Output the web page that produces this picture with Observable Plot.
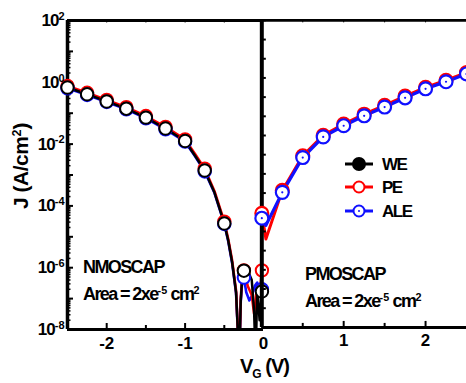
<!DOCTYPE html>
<html><head><meta charset="utf-8">
<script src="https://cdn.jsdelivr.net/npm/d3@7"></script>
<script src="https://cdn.jsdelivr.net/npm/@observablehq/plot@0.6"></script>
<style>
body{margin:0;background:#fff;}
#wrap{position:relative;width:466px;height:383px;overflow:hidden;font-family:"Liberation Sans",Arial,sans-serif;font-weight:bold;color:#000;background:#fff;}
#wrap svg.panel{position:absolute;left:0;top:0;}
.lbl{position:absolute;white-space:nowrap;line-height:1;}
.ann{font-size:18px;letter-spacing:-1.6px;}
.leg{font-size:17px;letter-spacing:-1.5px;}
sup{font-size:0.6em;vertical-align:0;position:relative;top:-0.55em;letter-spacing:0;}
sub{font-size:0.6em;vertical-align:0;position:relative;top:0.4em;}
</style></head><body><div id="wrap"></div>
<script>
// ---- NMOSCAP (left panel) ----
const weV  = [-2.5,-2.25,-2,-1.75,-1.5,-1.25,-1,-0.875,-0.75,-0.625,-0.5,-0.45,-0.4,-0.35,-0.31,-0.29,-0.27,-0.25,-0.2,-0.15,-0.12,-0.1,-0.08,-0.05,-0.02];
const weJ  = [0.68,0.41,0.24,0.14,0.072,0.032,0.0126,0.0043,0.0014,2.7e-4,2.7e-5,7.6e-6,1.5e-6,1.6e-7,1e-9,8.7e-8,5.6e-7,8e-7,7.9e-7,4e-7,4e-8,1e-9,2.5e-7,2e-8,1.7e-7];
const peNV = [-2.5,-2.25,-2,-1.75,-1.5,-1.25,-1,-0.875,-0.75,-0.625,-0.5,-0.45,-0.4,-0.35,-0.31,-0.29,-0.27,-0.25,-0.2,-0.15,-0.12,-0.08,-0.05,-0.02];
const peNJ = [0.76,0.46,0.27,0.157,0.081,0.036,0.0142,0.0049,0.0016,3.0e-4,3.1e-5,8.5e-6,1.7e-6,1.8e-7,1e-9,1e-7,6e-7,8.2e-7,2.5e-7,1.3e-7,3.3e-8,2.6e-7,1.3e-7,8.2e-7];
const aleNV = [-2.5,-2.25,-2,-1.75,-1.5,-1.25,-1,-0.875,-0.75,-0.625,-0.5,-0.45,-0.4,-0.35,-0.31,-0.29,-0.27,-0.25,-0.22,-0.18,-0.15,-0.11,-0.08,-0.05,-0.02];
const aleNJ = [0.64,0.39,0.23,0.133,0.068,0.030,0.012,0.0041,0.0013,2.6e-4,2.6e-5,7.2e-6,1.4e-6,1.5e-7,1e-9,8e-8,4e-7,4.8e-7,1.6e-7,8.7e-8,1.2e-7,2.6e-7,3.3e-7,1.5e-7,2e-7];
const markNV = [-2.5,-2.25,-2,-1.75,-1.5,-1.25,-1,-0.75,-0.5,-0.25,-0.02];

// ---- PMOSCAP (right panel) ----
const pV   = [0,0.05,0.25,0.5,0.75,1,1.25,1.5,1.75,2,2.25,2.5];
const aleP = [3.6e-5,2.1e-5,2.5e-4,3.4e-3,0.016,0.037,0.078,0.15,0.30,0.59,1.0,1.8];
const peP  = [5.2e-5,7.6e-6,2.9e-4,3.9e-3,0.018,0.042,0.088,0.17,0.34,0.66,1.12,2.0];
const markPV = [0,0.25,0.5,0.75,1,1.25,1.5,1.75,2,2.25,2.5];

// ---- axes ----
const xTickLeft = [-2,-1,0];
const xTickRight = [1,2];
const xMinorLeft = [-1.5,-0.5];
const xMinorRight = [0.5,1.5];
const yTickLabels = [1e2,1,1e-2,1e-4,1e-6,1e-8];
const yDecades = [1e2,1e1,1,1e-1,1e-2,1e-3,1e-4,1e-5,1e-6,1e-7,1e-8];
const yMinor = yDecades.slice(1).flatMap(d => [2,3,4,5,6,7,8,9].map(m => m*d));
const rightTicks = d3.range(0,17).map(i => Math.pow(10, -8 + i*0.625));

const rows = (V, J) => V.map((v,i) => ({V: v, J: J[i]}));
const we = rows(weV, weJ), peN = rows(peNV, peNJ), aleN = rows(aleNV, aleNJ);
const aleR = rows(pV, aleP), peR = rows(pV, peP);
const pickN = d => markNV.includes(d.V);
const pickP = d => markPV.includes(d.V);

const H = 383, MT = 20, MB = 54, innerH = H - MT - MB;
const RED = "#ff0000", BLUE = "#1010ff";
const font = {fontFamily: "'Liberation Sans', Arial, sans-serif", fontWeight: "bold", fontSize: "17px", overflow: "visible"};

// Left panel: x from -2.5 to 0
const leftW = 265, leftML = 67, leftMR = 2;
const leftInnerW = leftW - leftML - leftMR;
const left = Plot.plot({
  width: leftW, height: H,
  marginLeft: leftML, marginRight: leftMR, marginTop: MT, marginBottom: MB,
  x: {domain: [-2.5, 0], axis: null},
  y: {type: "log", domain: [1e-8, 1e2], axis: null},
  style: {...font, background: "white"},
  marks: [
    Plot.line(aleN, {x: "V", y: "J", stroke: BLUE, strokeWidth: 2.6, clip: true}),
    Plot.line(peN, {x: "V", y: "J", stroke: RED, strokeWidth: 2.6, clip: true}),
    Plot.line(we, {x: "V", y: "J", stroke: "black", strokeWidth: 2.5, clip: true}),
    Plot.ruleY([1e2], {strokeWidth: 3}),
    Plot.ruleY([1e-8], {strokeWidth: 3}),
    Plot.ruleX([-2.5], {strokeWidth: 3.5}),
    Plot.tickY(yDecades, {y: d => d, insetRight: leftInnerW - 6, strokeWidth: 2}),
    Plot.tickY(yMinor, {y: d => d, insetRight: leftInnerW - 3.5, strokeWidth: 1.5}),
    Plot.tickX(xTickLeft.filter(d => d !== 0), {x: d => d, insetTop: innerH - 6, strokeWidth: 2}),
    Plot.tickX(xMinorLeft, {x: d => d, insetTop: innerH - 4, strokeWidth: 2}),
    Plot.tickX(xTickLeft.concat(xMinorLeft).filter(d => d !== 0), {x: d => d, insetBottom: innerH - 2.5, strokeWidth: 1}),
    Plot.dot(peN.filter(pickN), {x: "V", y: "J", r: 6.2, stroke: RED, strokeWidth: 2, fill: "white"}),
    Plot.dot(aleN.filter(pickN), {x: "V", y: "J", r: 6.2, stroke: BLUE, strokeWidth: 2, fill: "white"}),
    Plot.dot(we.filter(pickN), {x: "V", y: "J", r: 6.2, stroke: "black", strokeWidth: 2, fill: "white"}),
    Plot.axisX({ticks: xTickLeft, tickSize: 0, tickPadding: 7, tickFormat: d => String(d), label: null}),
    Plot.axisY({ticks: yTickLabels, tickSize: 0, tickPadding: 3, tickFormat: d => "10|" + Math.round(Math.log10(d)), label: null})
  ]
});

// Right panel: x from 0 to 2.5
const rightW = 469, rightML = 263, rightMR = 0;
const right = Plot.plot({
  width: rightW, height: H,
  marginLeft: rightML, marginRight: rightMR, marginTop: MT, marginBottom: MB,
  x: {domain: [0, 2.5], axis: null},
  y: {type: "log", domain: [1e-8, 1e2], axis: null},
  style: {...font, background: "transparent"},
  marks: [
    Plot.line(peR, {x: "V", y: "J", stroke: RED, strokeWidth: 3, clip: true}),
    Plot.line(aleR, {x: "V", y: "J", stroke: BLUE, strokeWidth: 3.2, clip: true}),
    Plot.ruleY([1e2], {strokeWidth: 3}),
    Plot.ruleY([1e-8], {strokeWidth: 3}),
    Plot.ruleX([0], {strokeWidth: 4}),
    Plot.ruleY(rightTicks, {y: d => d, x1: 0, x2: 0.055, strokeWidth: 2}),
    Plot.tickX(xTickRight, {x: d => d, insetTop: innerH - 6, strokeWidth: 2}),
    Plot.tickX(xMinorRight, {x: d => d, insetTop: innerH - 4, strokeWidth: 2}),
    Plot.tickX(xTickRight.concat(xMinorRight), {x: d => d, insetBottom: innerH - 2.5, strokeWidth: 1}),
    Plot.dot(peR.filter(pickP), {x: "V", y: "J", r: 6.5, stroke: RED, strokeWidth: 2.2, fill: "white"}),
    Plot.dot(aleR.filter(pickP), {x: "V", y: "J", r: 6.5, stroke: BLUE, strokeWidth: 2.2, fill: "white"}),
    Plot.dot(aleR.filter(pickP), {x: "V", y: "J", r: 1.1, fill: BLUE}),
    Plot.axisX({ticks: xTickRight, tickSize: 0, tickPadding: 7, tickFormat: d => String(d), label: null})
  ]
});

// superscript exponents on y tick labels
d3.select(left).selectAll('g[aria-label="y-axis tick label"] text').each(function() {
  const t = d3.select(this);
  const [base, exp] = t.text().split("|");
  t.text(null).attr("letter-spacing", "-1");
  t.append("tspan").text(base);
  t.append("tspan").attr("dy", "-0.55em").attr("font-size", "11px").attr("letter-spacing", "0").text(exp);
});

const wrap = document.getElementById("wrap");
left.classList.add("panel"); right.classList.add("panel");
wrap.appendChild(left);
wrap.appendChild(right);

function addLabel(html, x, y, cls, extra) {
  const d = document.createElement("div");
  d.className = "lbl " + cls;
  d.style.left = x + "px"; d.style.top = y + "px";
  if (extra) Object.assign(d.style, extra);
  d.innerHTML = html;
  wrap.appendChild(d);
  return d;
}
addLabel("NMOSCAP", 83, 258, "ann");
addLabel("Area = 2xe<sup>-5</sup> cm<sup>2</sup>", 83, 285, "ann");
addLabel("PMOSCAP", 305, 265, "ann");
addLabel("Area = 2xe<sup>-5</sup> cm<sup>2</sup>", 305, 292, "ann");
addLabel("V<sub>G</sub> (V)", 240, 356, "", {fontSize: "20px", letterSpacing: "-1px"});
addLabel("J (A/cm<sup>2</sup>)", 20, 166, "", {fontSize: "21px", letterSpacing: "-0.5px", transform: "translate(-50%,-50%) rotate(-90deg)"});

// legend
const legendNames = ["WE", "PE", "ALE"];
const legendColors = ["black", RED, BLUE];
const legendRowsY = [164, 187, 211];
legendNames.forEach((name, i) => {
  const y = legendRowsY[i];
  const s = d3.create("svg").attr("width", 30).attr("height", 16)
    .style("position", "absolute").style("left", "344px").style("top", (y - 8) + "px");
  s.append("line").attr("x1", 1).attr("x2", 29).attr("y1", 8).attr("y2", 8).attr("stroke", legendColors[i]).attr("stroke-width", 3);
  s.append("circle").attr("cx", 15).attr("cy", 8).attr("r", i === 0 ? 6 : 5.5)
    .attr("fill", i === 0 ? "black" : "white").attr("stroke", legendColors[i]).attr("stroke-width", 2);
  if (i === 2) s.append("circle").attr("cx", 15).attr("cy", 8).attr("r", 1).attr("fill", legendColors[i]);
  wrap.appendChild(s.node());
  addLabel(name, 382, y - 8.5, "leg");
});
</script></body></html>
